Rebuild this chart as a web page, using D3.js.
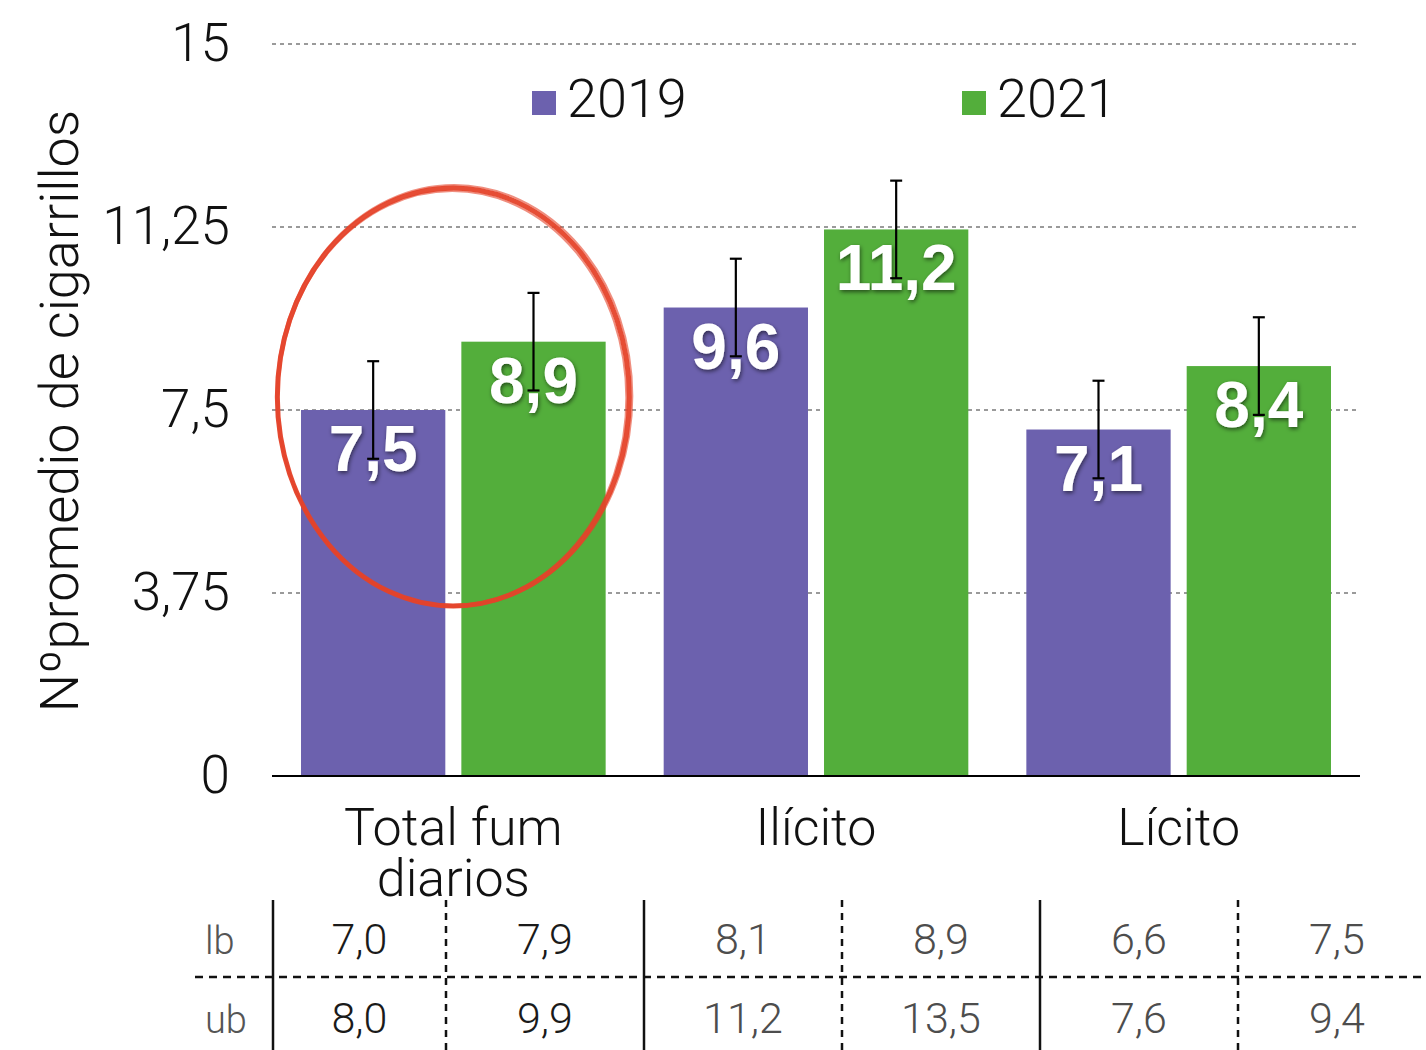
<!DOCTYPE html>
<html>
<head>
<meta charset="utf-8">
<script src="https://cdn.jsdelivr.net/npm/d3@7"></script>
<style>
  body { margin: 0; background: #fff; }
  svg { display: block; font-family: Roboto, "Liberation Sans", sans-serif; }
</style>
</head>
<body>
<div id="chart"></div>
<script>
// data
const categories = [["Total fum", "diarios"], ["Ilícito"], ["Lícito"]]
const series = ["2019", "2021"]
const values2019 = [7.5, 9.6, 7.1]
const values2021 = [8.9, 11.2, 8.4]
const err2019 = [1, 1, 1]
const err2021 = [1, 1, 1]
const yTicks = [0, 3.75, 7.5, 11.25, 15]
const rowLabels = ["lb", "ub"]
const lbValues = [7.0, 7.9, 8.1, 8.9, 6.6, 7.5]
const ubValues = [8.0, 9.9, 11.2, 13.5, 7.6, 9.4]

const colors = { "2019": "#6c61ae", "2021": "#53ae3b" }
const width = 1426, height = 1050
const margin = { left: 272, right: 66, top: 44, bottom: 274 }

const comma = d => String(d).replace('.', ',')
const fmt1 = d => d.toFixed(1).replace('.', ',')

const svg = d3.select('#chart').append('svg')
  .attr('width', width)
  .attr('height', height)

// shadow for the labels inside the bars
const defs = svg.append('defs')
defs.append('filter')
  .attr('id', 'shadow')
  .attr('x', '-20%').attr('y', '-20%').attr('width', '140%').attr('height', '140%')
  .append('feDropShadow')
  .attr('dx', 1).attr('dy', 2).attr('stdDeviation', 2)
  .attr('flood-color', '#000').attr('flood-opacity', 0.55)

const x0 = d3.scaleBand()
  .domain(d3.range(categories.length))
  .range([margin.left, width - margin.right])
  .paddingInner(0.16)
  .paddingOuter(0.08)

const x1 = d3.scaleBand()
  .domain(series)
  .range([0, x0.bandwidth()])
  .paddingInner(0.1)

const y = d3.scaleLinear()
  .domain([0, 15])
  .range([height - margin.bottom, margin.top])

// gridlines
svg.append('g')
  .selectAll('line')
  .data(yTicks.filter(d => d > 0))
  .join('line')
  .attr('x1', margin.left)
  .attr('x2', width - margin.right)
  .attr('y1', d => y(d))
  .attr('y2', d => y(d))
  .attr('stroke', '#9a9a9a')
  .attr('stroke-width', 2)
  .attr('stroke-dasharray', '4,4')

// y axis
svg.append('g')
  .attr('transform', `translate(${margin.left},0)`)
  .call(d3.axisLeft(y).tickValues(yTicks).tickFormat(comma).tickSize(0).tickPadding(42))
  .call(g => g.select('.domain').remove())
  .call(g => g.selectAll('.tick text')
    .attr('font-size', 53)
    .attr('font-weight', 300)
    .attr('font-family', 'Roboto, sans-serif')
    .attr('fill', '#111'))

svg.append('text')
  .attr('transform', `translate(78, 411) rotate(-90)`)
  .attr('text-anchor', 'middle')
  .attr('font-size', 54)
  .attr('font-weight', 300)
  .attr('fill', '#111')
  .text('Nºpromedio de cigarrillos')

// bars
const rows = categories.map((c, i) => ({
  i,
  bars: [
    { s: "2019", v: values2019[i], e: err2019[i] },
    { s: "2021", v: values2021[i], e: err2021[i] }
  ]
}))

const groups = svg.append('g')
  .selectAll('g')
  .data(rows)
  .join('g')
  .attr('transform', d => `translate(${x0(d.i)},0)`)

groups.selectAll('rect')
  .data(d => d.bars)
  .join('rect')
  .attr('x', d => x1(d.s))
  .attr('y', d => y(d.v))
  .attr('width', x1.bandwidth())
  .attr('height', d => y(0) - y(d.v))
  .attr('fill', d => colors[d.s])

groups.selectAll('text.val')
  .data(d => d.bars)
  .join('text')
  .attr('class', 'val')
  .attr('x', d => x1(d.s) + x1.bandwidth() / 2)
  .attr('y', d => y(d.v) + 61)
  .attr('text-anchor', 'middle')
  .attr('font-family', '"Liberation Sans", Arial, sans-serif')
  .attr('font-weight', 'bold')
  .attr('font-size', 64)
  .attr('fill', '#fff')
  .attr('filter', 'url(#shadow)')
  .text(d => comma(d.v))

// error bars
let drawErr = (g) => {
  let cx = d => x1(d.s) + x1.bandwidth() / 2
  g.append('line')
    .attr('x1', cx).attr('x2', cx)
    .attr('y1', d => y(d.v + d.e)).attr('y2', d => y(d.v - d.e))
  g.append('line')
    .attr('x1', d => cx(d) - 6).attr('x2', d => cx(d) + 6)
    .attr('y1', d => y(d.v + d.e)).attr('y2', d => y(d.v + d.e))
  g.append('line')
    .attr('x1', d => cx(d) - 6).attr('x2', d => cx(d) + 6)
    .attr('y1', d => y(d.v - d.e)).attr('y2', d => y(d.v - d.e))
}
groups.selectAll('g.err')
  .data(d => d.bars)
  .join('g')
  .attr('class', 'err')
  .attr('stroke', '#000')
  .attr('stroke-width', 2.2)
  .call(drawErr)

// x axis
svg.append('line')
  .attr('x1', margin.left).attr('x2', width - margin.right)
  .attr('y1', y(0)).attr('y2', y(0))
  .attr('stroke', '#000').attr('stroke-width', 2)

svg.append('g')
  .selectAll('text')
  .data(rows)
  .join('text')
  .attr('text-anchor', 'middle')
  .attr('font-size', 52)
  .attr('font-weight', 300)
  .attr('fill', '#111')
  .each(function(d) {
    d3.select(this).selectAll('tspan')
      .data(categories[d.i])
      .join('tspan')
      .attr('x', x0(d.i) + x0.bandwidth() / 2)
      .attr('y', (t, k) => 845 + k * 51)
      .text(t => t)
  })

// legend
const legendX = d3.scaleLinear().domain([0, 1]).range([532, 962])
const legend = svg.append('g')
  .selectAll('g')
  .data(series)
  .join('g')
  .attr('transform', (d, i) => `translate(${legendX(i)}, 91)`)
legend.append('rect')
  .attr('width', 24).attr('height', 24)
  .attr('fill', d => colors[d])
legend.append('text')
  .attr('x', 35).attr('y', 26)
  .attr('font-size', 54)
  .attr('font-weight', 300)
  .attr('fill', '#111')
  .text(d => d)

// confidence table below the chart
const tx = d3.scaleLinear().domain([0, 1, 6]).range([273, 446, 1436])
const rowY = d3.scaleLinear().domain([0, 1]).range([954, 1033])
const table = svg.append('g')

table.selectAll('line.v')
  .data(d3.range(0, 6))
  .join('line')
  .attr('x1', d => tx(d)).attr('x2', d => tx(d))
  .attr('y1', 900).attr('y2', height)
  .attr('stroke', '#111')
  .attr('stroke-width', 2.5)
  .attr('stroke-dasharray', d => d % 2 === 0 ? null : '7,6')

table.append('line')
  .attr('x1', 195).attr('x2', width)
  .attr('y1', 977).attr('y2', 977)
  .attr('stroke', '#111')
  .attr('stroke-width', 2.5)
  .attr('stroke-dasharray', '8,6')

table.selectAll('text.row')
  .data(rowLabels)
  .join('text')
  .attr('class', 'row')
  .attr('x', 205)
  .attr('y', (d, i) => rowY(i))
  .attr('font-size', 38)
  .attr('font-weight', 300)
  .attr('fill', '#555')
  .text(d => d)

const cells = []
lbValues.forEach((v, c) => cells.push({ r: 0, c, v }))
ubValues.forEach((v, c) => cells.push({ r: 1, c, v }))

table.selectAll('text.cell')
  .data(cells)
  .join('text')
  .attr('class', 'cell')
  .attr('x', d => (tx(d.c) + tx(d.c + 1)) / 2)
  .attr('y', d => rowY(d.r))
  .attr('text-anchor', 'middle')
  .attr('font-size', 43)
  .attr('font-weight', 300)
  .attr('fill', d => d.c < 2 ? '#1a1a1a' : '#4d4d4d')
  .text(d => fmt1(d.v))

// red hand-drawn highlight round the first group
const hi = svg.append('g')
  .attr('fill', 'none')
  .attr('stroke', '#e5432a')
const cx = x0(0) + x0.bandwidth() / 2
const strokes = [
  { dx: 0, dy: 0, rx: 176, ry: 209, w: 5, o: 0.95 },
  { dx: 1, dy: -1, rx: 178, ry: 211, w: 2, o: 0.6 },
  { dx: -1, dy: 1, rx: 174, ry: 207, w: 2, o: 0.6 }
]
hi.selectAll('ellipse')
  .data(strokes)
  .join('ellipse')
  .attr('cx', d => cx + d.dx)
  .attr('cy', d => 397 + d.dy)
  .attr('rx', d => d.rx)
  .attr('ry', d => d.ry)
  .attr('stroke-width', d => d.w)
  .attr('stroke-opacity', d => d.o)
</script>
</body>
</html>
